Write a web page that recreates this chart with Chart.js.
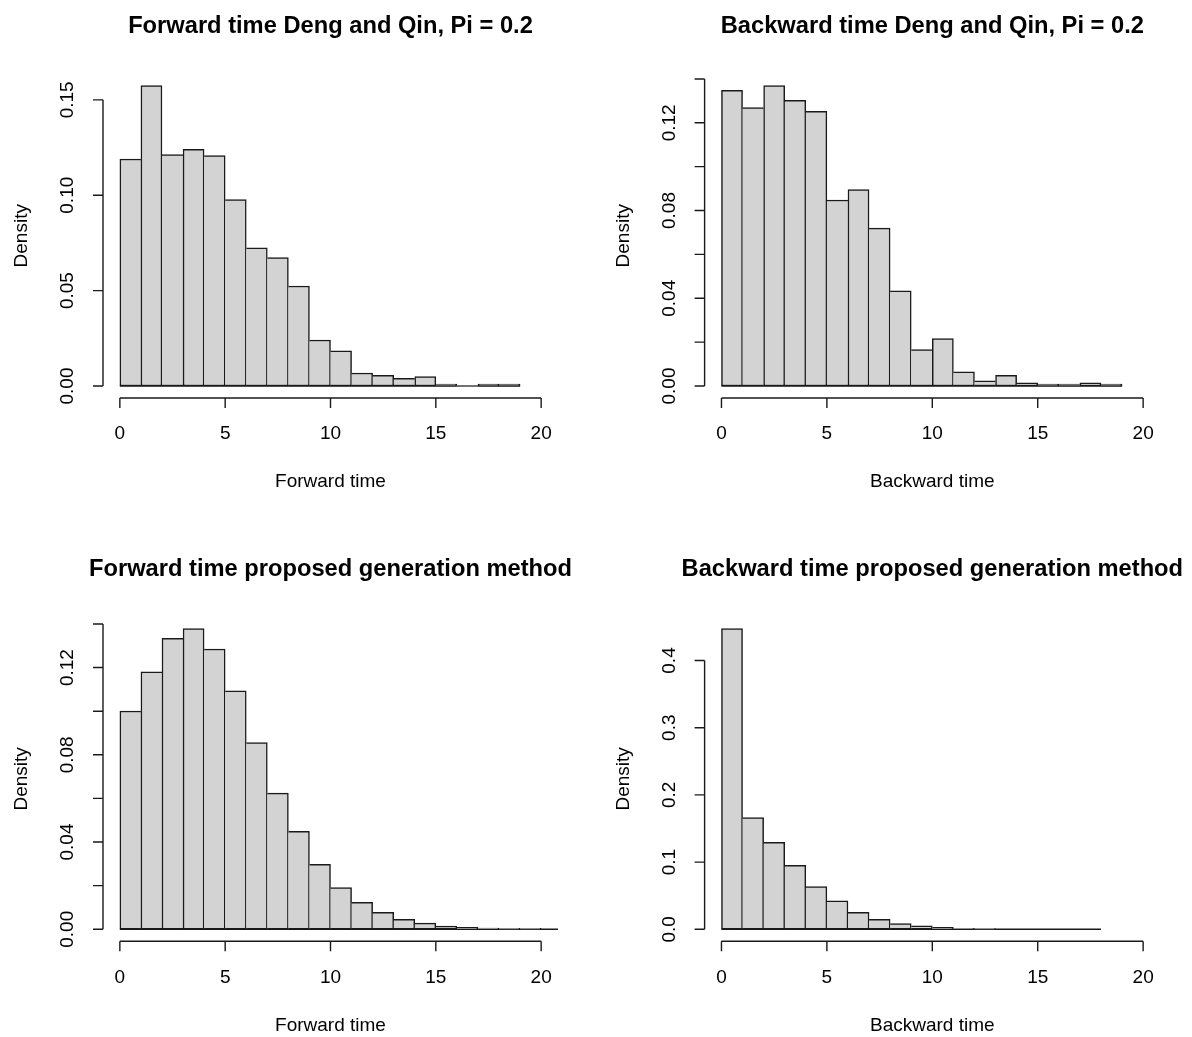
<!DOCTYPE html>
<html>
<head>
<meta charset="utf-8">
<script src="https://cdn.jsdelivr.net/npm/chart.js@4"></script>
<style>
    body { margin: 0; background: #fff; }
    #wrap { position: relative; width: 1192px; height: 1037px; }
    canvas { position: absolute; }
</style>
</head>
<body>
<div id="wrap">
    <canvas id="c1" width="596" height="518" style="left:0;top:0"></canvas>
    <canvas id="c2" width="596" height="518" style="left:596px;top:0"></canvas>
    <canvas id="c3" width="596" height="519" style="left:0;top:518px"></canvas>
    <canvas id="c4" width="596" height="519" style="left:596px;top:518px"></canvas>
</div>
<script>
// densities per unit-width bin, starting at 0
const forwardDQ = [0.119, 0.1575, 0.1213, 0.124, 0.1208, 0.0977, 0.0724, 0.0673, 0.0524, 0.0241,
    0.0184, 0.0068, 0.0056, 0.004, 0.0049, 0.001, 0, 0.001, 0.001];
const backwardDQ = [0.1348, 0.1269, 0.137, 0.1302, 0.1252, 0.0848, 0.0895, 0.072, 0.0434, 0.0166,
    0.0216, 0.0065, 0.0024, 0.0049, 0.0014, 0.0009, 0.0009, 0.0014, 0.0009];
const forwardProp = [0.1001, 0.1181, 0.1334, 0.1379, 0.1285, 0.1093, 0.0856, 0.0624, 0.0449, 0.0298,
    0.0191, 0.0124, 0.0078, 0.0046, 0.0028, 0.0015, 0.0009, 0.0005, 0.0004, 0.0004, 0];
const backwardProp = [0.4476, 0.1662, 0.1295, 0.0953, 0.0635, 0.0422, 0.0253, 0.0149, 0.0084, 0.005,
    0.003, 0.0015, 0.0012, 0, 0, 0, 0, 0];

const xTicks = [0, 5, 10, 15, 20];
const yTicksA = [0, 0.05, 0.10, 0.15];
const yLabelsA = ['0.00', '0.05', '0.10', '0.15'];
const yTicksB = [0, 0.02, 0.04, 0.06, 0.08, 0.10, 0.12, 0.14];
const yLabelsB = ['0.00', '', '0.04', '', '0.08', '', '0.12', ''];
const yTicksC = [0, 0.1, 0.2, 0.3, 0.4];
const yLabelsC = ['0.0', '0.1', '0.2', '0.3', '0.4'];

const FONT = '"Liberation Sans", Arial, sans-serif';
const INK = '#1a1a1a';

const rAxes = {
    id: 'rAxes',
    afterDraw(chart, args, opts) {
        const ctx = chart.ctx;
        const area = chart.chartArea;
        const xs = chart.scales.x;
        const ys = chart.scales.y;
        ctx.save();
        ctx.strokeStyle = INK;
        ctx.fillStyle = '#000';
        ctx.lineWidth = 1.4;

        // x axis
        const xb = area.bottom;
        const x0 = xs.getPixelForValue(opts.xTicks[0]);
        const x1 = xs.getPixelForValue(opts.xTicks[opts.xTicks.length - 1]);
        ctx.beginPath();
        ctx.moveTo(x0, xb);
        ctx.lineTo(x1, xb);
        opts.xTicks.forEach(t => {
            const px = xs.getPixelForValue(t);
            ctx.moveTo(px, xb);
            ctx.lineTo(px, xb + 10);
        });
        ctx.stroke();
        ctx.font = '19px ' + FONT;
        ctx.textAlign = 'center';
        ctx.textBaseline = 'middle';
        opts.xTicks.forEach(t => {
            ctx.fillText(String(t), xs.getPixelForValue(t), xb + 36);
        });
        ctx.fillText(opts.xTitle, (area.left + area.right) / 2, xb + 84);

        // y axis
        const yl = area.left;
        const y0 = ys.getPixelForValue(opts.yTicks[0]);
        const y1 = ys.getPixelForValue(opts.yTicks[opts.yTicks.length - 1]);
        ctx.beginPath();
        ctx.moveTo(yl, y0);
        ctx.lineTo(yl, y1);
        opts.yTicks.forEach(t => {
            const py = ys.getPixelForValue(t);
            ctx.moveTo(yl, py);
            ctx.lineTo(yl - 10, py);
        });
        ctx.stroke();
        opts.yTicks.forEach((t, i) => {
            const lab = opts.yLabels[i];
            if (!lab) return;
            ctx.save();
            ctx.translate(yl - 35, ys.getPixelForValue(t));
            ctx.rotate(-Math.PI / 2);
            ctx.fillText(lab, 0, 0);
            ctx.restore();
        });
        ctx.save();
        ctx.translate(yl - 81, (area.top + area.bottom) / 2);
        ctx.rotate(-Math.PI / 2);
        ctx.fillText('Density', 0, 0);
        ctx.restore();

        // main title
        ctx.font = 'bold 23.7px ' + FONT;
        ctx.fillText(opts.title, (area.left + area.right) / 2, area.top - 47);
        ctx.restore();
    }
};

function drawHist(id, values, title, xTitle, yTicks, yLabels, pad) {
    const ymax = Math.max(...values);
    const bars = values.map((v, i) => ({ x: i + 0.5, y: v }));
    const baseline = [{ x: 0, y: 0 }, { x: values.length, y: 0 }];
    const bw = 1.5;
    new Chart(document.getElementById(id), {
        type: 'bar',
        data: {
            datasets: [{
                type: 'line',
                data: baseline,
                borderColor: INK,
                borderWidth: 1.5,
                pointRadius: 0,
                order: 2
            }, {
                data: bars,
                backgroundColor: '#D3D3D3',
                borderColor: INK,
                borderSkipped: false,
                barPercentage: 1,
                categoryPercentage: 1,
                borderWidth: (c) => {
                    const d = values;
                    const i = c.dataIndex;
                    const prev = i > 0 ? d[i - 1] : -1;
                    const next = i < d.length - 1 ? d[i + 1] : -1;
                    return {
                        top: bw,
                        bottom: bw,
                        left: d[i] > prev ? bw : 0,
                        right: d[i] >= next ? bw : 0
                    };
                },
                order: 1
            }]
        },
        options: {
            responsive: false,
            animation: false,
            layout: { padding: pad },
            plugins: {
                legend: { display: false },
                tooltip: { enabled: false },
                rAxes: { title, xTitle, xTicks, yTicks, yLabels }
            },
            scales: {
                x: { type: 'linear', min: -0.8, max: 20.8, offset: false, display: false },
                y: { min: -0.04 * ymax, max: 1.04 * ymax, display: false }
            }
        },
        plugins: [rAxes]
    });
}

drawHist('c1', forwardDQ, 'Forward time Deng and Qin, Pi = 0.2', 'Forward time', yTicksA, yLabelsA,
    { left: 103, right: 38, top: 73.5, bottom: 120 });
drawHist('c2', backwardDQ, 'Backward time Deng and Qin, Pi = 0.2', 'Backward time', yTicksB, yLabelsB,
    { left: 108.6, right: 32, top: 73.5, bottom: 120 });
drawHist('c3', forwardProp, 'Forward time proposed generation method', 'Forward time', yTicksB, yLabelsB,
    { left: 103, right: 38, top: 98.5, bottom: 95.7 });
drawHist('c4', backwardProp, 'Backward time proposed generation method', 'Backward time', yTicksC, yLabelsC,
    { left: 108.6, right: 32, top: 98.5, bottom: 95.7 });
</script>
</body>
</html>
